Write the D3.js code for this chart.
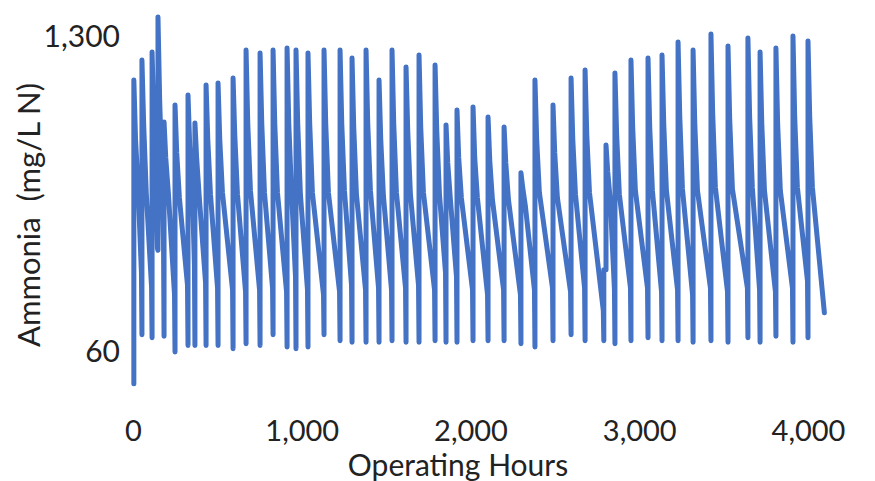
<html>
<head>
  <meta charset="UTF-8">
  <title>Ammonia vs Operating Hours</title>
  <style>
    body {
      margin: 0;
      padding: 0;
      background-color: #ffffff;
    }

    #chart text {
      font-family: Lato, "Noto Sans", sans-serif;
      fill: #222;
    }
  </style>
</head>
<body>
  <div id="chart"></div>

  <script src="https://cdnjs.cloudflare.com/ajax/libs/d3/7.8.4/d3.min.js"></script>
  <script>
    // Feed cycles: hour of each spike, the value it drops to,
    // the peak it jumps to, the decay readings after the peak and the value just before the next spike
    const cycleHours = [5, 53, 113, 148, 184, 249, 326, 367, 433, 504, 593, 670, 753, 830, 913, 966, 1037, 1132, 1227, 1298,
      1381, 1458, 1535, 1618, 1695, 1790, 1855, 1920, 2015, 2104, 2199, 2299, 2382, 2489, 2596, 2679, 2790, 2803, 2856, 2951,
      3052, 3135, 3230, 3319, 3425, 3526, 3644, 3716, 3810, 3911, 4000];
    const cycleLow = [44, 71, 69, 162, 70, 60, 64, 64, 64, 64, 62, 65, 64, 71, 63, 62, 63, 71, 67, 66,
      66, 66, 67, 66, 66, 67, 66, 66, 67, 67, 67, 65, 63, 67, 71, 67, 67, 134, 65, 67,
      69, 67, 67, 66, 67, 66, 69, 66, 70, 66, 69];
    const cyclePeak = [854, 1039, 1123, 1580, 567, 669, 738, 562, 814, 830, 871, 1145, 1112, 1145, 1168, 1145, 1112, 1145, 1145, 1059,
      1145, 854, 1145, 970, 1091, 989, 551, 637, 657, 595, 540, 345, 854, 669, 871, 942, 134, 453, 915, 1039,
      1059, 1091, 1238, 1145, 1338, 1191, 1288, 1123, 1168, 1313, 1250];
    const cycleDrop = [480, 560, 600, 700, 400, 420, 450, 400, 480, 480, 500, 560, 560, 560, 560, 560, 560, 560, 560, 540,
      560, 480, 560, 520, 540, 520, 380, 400, 400, 390, 380, 300, 480, 420, 480, 500, null, 350, 500, 540,
      540, 560, 600, 560, 620, 580, 600, 560, 560, 600, 600];
    const cycleKnee = [290, 280, 260, 300, 280, 270, 285, 270, 280, 285, 280, 290, 285, 285, 290, 280, 285, 285, 290, 280,
      290, 275, 285, 280, 285, 280, 265, 270, 270, 265, 265, 250, 285, 270, 280, 285, null, 260, 280, 290,
      290, 290, 295, 290, 300, 295, 300, 290, 290, 300, 300];
    const cycleEnd = [130, 113, 165, 170, 105, 115, 140, 118, 112, 110, 108, 110, 112, 108, 125, 110, 105, 108, 115, 110,
      112, 110, 112, 115, 110, 130, 125, 110, 105, 110, 105, 110, 112, 108, 112, 90, 134, 110, 112, 112,
      108, 110, 105, 112, 108, 112, 110, 108, 112, 120, 88];
    const lastHour = 4100;

    const xTicks = [0, 1000, 2000, 3000, 4000];
    const yTicks = [60, 1300];

    const width = 875;
    const height = 481;

    const svg = d3.select("#chart")
      .append("svg")
      .attr("width", width)
      .attr("height", height);

    const x = d3.scaleLinear().domain([0, 4000]).range([133, 808]);
    const y = d3.scaleLog().domain([60, 1300]).range([352, 37]);

    // Build the series from the cycle readings
    const points = [];
    cycleHours.forEach((h, i) => {
      const next = i < cycleHours.length - 1 ? cycleHours[i + 1] : lastHour;
      points.push([h, cycleLow[i]]);
      points.push([h, cyclePeak[i]]);
      if (cycleDrop[i] !== null) points.push([h + 10, cycleDrop[i]]);
      if (cycleKnee[i] !== null) points.push([h + 26, cycleKnee[i]]);
      points.push([next - 3, cycleEnd[i]]);
    });

    const line = d3.line()
      .x(d => x(d[0]))
      .y(d => y(d[1]));

    svg.append("path")
      .datum(points)
      .attr("d", line)
      .attr("fill", "none")
      .attr("stroke", "#4472C4")
      .attr("stroke-width", 5)
      .attr("stroke-linejoin", "round")
      .attr("stroke-linecap", "round");

    const xAxis = d3.axisBottom(x)
      .tickValues(xTicks)
      .tickFormat(d3.format(","))
      .tickSize(0)
      .tickPadding(10);

    svg.append("g")
      .attr("transform", "translate(0,410)")
      .call(xAxis)
      .call(g => g.select(".domain").remove())
      .selectAll("text")
      .style("font-size", "29px");

    const yAxis = d3.axisLeft(y)
      .tickValues(yTicks)
      .tickFormat(d3.format(","))
      .tickSize(0)
      .tickPadding(0);

    svg.append("g")
      .attr("transform", "translate(120,0)")
      .call(yAxis)
      .call(g => g.select(".domain").remove())
      .selectAll("text")
      .style("font-size", "30px");

    svg.append("text")
      .attr("x", 458)
      .attr("y", 476)
      .attr("text-anchor", "middle")
      .style("font-size", "30px")
      .text("Operating Hours");

    svg.append("text")
      .attr("transform", "translate(40,215) rotate(-90)")
      .attr("text-anchor", "middle")
      .attr("xml:space", "preserve")
      .style("white-space", "pre")
      .style("font-size", "31px")
      .text("Ammonia  (mg/L N)");
  </script>
</body>
</html>
